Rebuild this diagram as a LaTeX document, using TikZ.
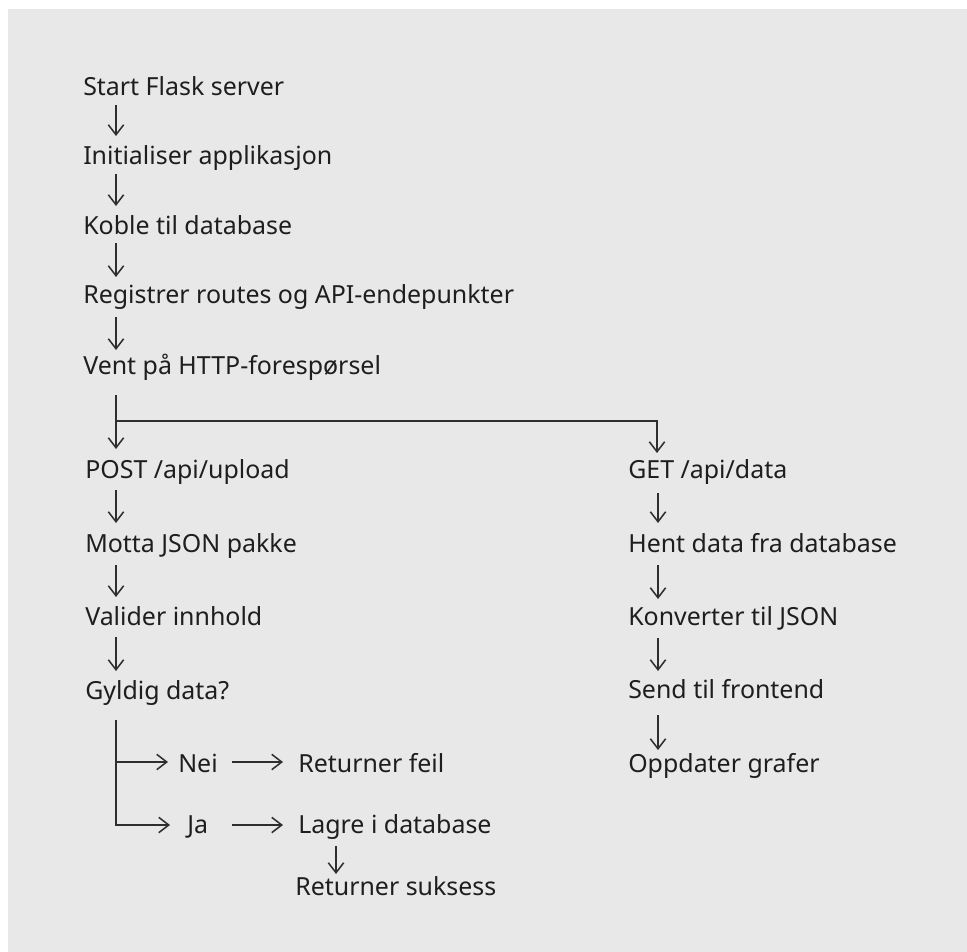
\documentclass[tikz,border=0pt]{standalone}
\usepackage{fontspec}
\setmainfont{Noto Sans}
\usetikzlibrary{arrows.meta,calc}
\definecolor{bgc}{HTML}{E8E8E8}
\definecolor{inkc}{HTML}{1E1E1E}
\definecolor{linec}{HTML}{2E2E2E}
\begin{document}
\begin{tikzpicture}[x=0.75pt,y=-0.75pt,
  txt/.style={anchor=base west,inner sep=0pt,text=inkc,font=\fontsize{18.7}{22}\selectfont},
  arr/.style={draw=linec,line width=1.15pt,-{Straight Barb[length=7.5pt,width=11.5pt,line width=1.15pt]}},
  ln/.style={draw=linec,line width=1.15pt}]
% canvas and panel
\path[fill=white] (0,0) rectangle (967,952);
\path[fill=bgc] (8,9) rectangle (967,952);
\useasboundingbox (0,0) rectangle (967,952);

% main sequence
\node[txt] (start)   at (83,96)  {Start Flask server};
\node[txt] (init)    at (83,165) {Initialiser applikasjon};
\node[txt] (koble)   at (83,235) {Koble til database};
\node[txt] (reg)     at (83,304) {Registrer routes og API-endepunkter};
\node[txt] (vent)    at (83,374) {Vent på HTTP-forespørsel};

% POST branch
\node[txt] (post)    at (85,478) {POST /api/upload};
\node[txt] (motta)   at (85,552) {Motta JSON pakke};
\node[txt] (valider) at (85,625) {Valider innhold};
\node[txt] (gyldig)  at (85,699) {Gyldig data?};
\node[txt] (nei)     at (178,772) {Nei};
\node[txt] (feil)    at (298,772) {Returner feil};
\node[txt] (ja)      at (187,833) {Ja};
\node[txt] (lagre)   at (298,833) {Lagre i database};
\node[txt] (suksess) at (295,895) {Returner suksess};

% GET branch
\node[txt] (get)     at (628,478) {GET /api/data};
\node[txt] (hent)    at (628,552) {Hent data fra database};
\node[txt] (konv)    at (628,625) {Konverter til JSON};
\node[txt] (send)    at (628,698) {Send til frontend};
\node[txt] (oppd)    at (628,772) {Oppdater grafer};

% vertical steps
\draw[arr] ($(start.base west)+(33,9)$) -- ($(init.base west)+(33,-29)$);
\draw[arr] ($(init.base west)+(33,9)$)  -- ($(koble.base west)+(33,-29)$);
\draw[arr] ($(koble.base west)+(33,8)$) -- ($(reg.base west)+(33,-27)$);
\draw[arr] ($(reg.base west)+(33,13)$)  -- ($(vent.base west)+(33,-24)$);

\draw[arr] ($(post.base west)+(31,12)$)    -- ($(motta.base west)+(31,-29)$);
\draw[arr] ($(motta.base west)+(31,13)$)   -- ($(valider.base west)+(31,-28)$);
\draw[arr] ($(valider.base west)+(31,12)$) -- ($(gyldig.base west)+(31,-28)$);

\draw[arr] ($(get.base west)+(30,15)$)  -- ($(hent.base west)+(30,-29)$);
\draw[arr] ($(hent.base west)+(30,13)$) -- ($(konv.base west)+(30,-26)$);
\draw[arr] ($(konv.base west)+(30,13)$) -- ($(send.base west)+(30,-27)$);
\draw[arr] ($(send.base west)+(30,17)$) -- ($(oppd.base west)+(30,-22)$);

% request fork
\coordinate (fork) at ($(vent.base west)+(33,47)$);
\draw[arr] ($(vent.base west)+(33,21)$) -- ($(post.base west)+(31,-29)$);
\draw[arr] (fork) -| ($(get.base west)+(29,-25)$);

% validation fork
\coordinate (vsplit) at ($(gyldig.base west)+(31,63)$);
\draw[arr] ($(gyldig.base west)+(31,21)$) |- ($(ja.base west)+(-17,-8)$);
\draw[arr] (vsplit) -- ($(nei.base west)+(-10,-10)$);
\draw[arr] ($(nei.base west)+(54,-10)$) -- ($(feil.base west)+(-15,-10)$);
\draw[arr] ($(ja.base west)+(45,-8)$)   -- ($(lagre.base west)+(-15,-8)$);
\draw[arr] ($(lagre.base west)+(38,13)$) -- ($(suksess.base west)+(41,-21)$);
\end{tikzpicture}
\end{document}
